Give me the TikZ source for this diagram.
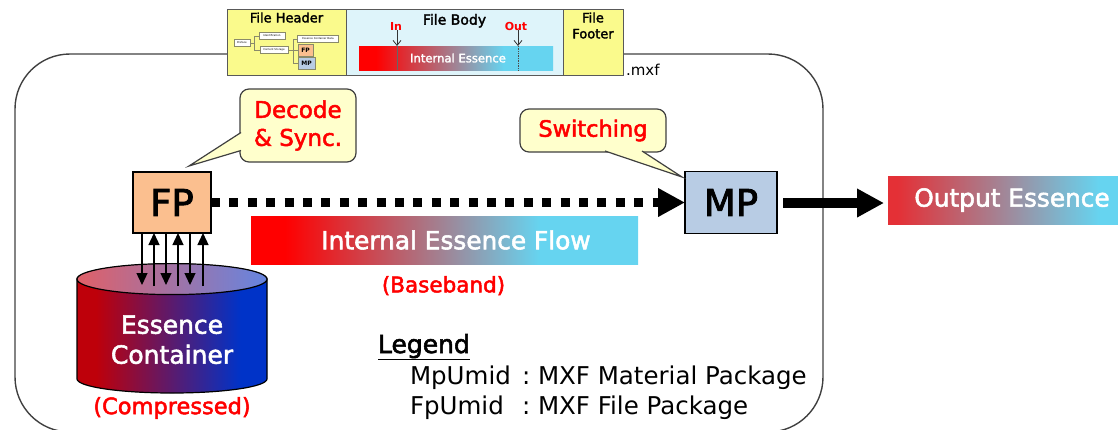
\documentclass[tikz,border=0pt]{standalone}
\usepackage{fontspec}
\setmainfont{DejaVu Sans}
\newfontfamily\medfont[FakeBold=2.2]{DejaVu Sans}
\usepackage{tikz}
\usetikzlibrary{shapes,arrows.meta,positioning,calc}

\definecolor{fporange}{HTML}{FBBF8F}
\definecolor{mpblue}{HTML}{B8CCE4}
\definecolor{noteyellow}{HTML}{FFFFCC}
\definecolor{headeryellow}{HTML}{FAFA8C}
\definecolor{bodyblue}{HTML}{DEF4FA}
\definecolor{flowcyan}{HTML}{66D4F0}
\definecolor{labelred}{HTML}{FF0000}
\definecolor{outputred}{HTML}{E43036}
\definecolor{treegray}{HTML}{8A8A6A}
\definecolor{sidered}{HTML}{BE000A}
\definecolor{sideblue}{HTML}{0033C8}
\definecolor{topred}{HTML}{E06068}
\definecolor{topblue}{HTML}{6585E0}

\pgfdeclarehorizontalshading{essenceflow}{100bp}{color(0bp)=(red); color(29.4bp)=(red); color(62.3bp)=(flowcyan); color(100bp)=(flowcyan)}
\pgfdeclarehorizontalshading{outputflow}{100bp}{color(0bp)=(outputred); color(27bp)=(outputred); color(71bp)=(flowcyan); color(100bp)=(flowcyan)}
\pgfdeclarehorizontalshading{containerside}{100bp}{color(0bp)=(sidered); color(30bp)=(sidered); color(68bp)=(sideblue); color(100bp)=(sideblue)}
\pgfdeclarehorizontalshading{containertop}{100bp}{color(0bp)=(topred); color(25bp)=(topred); color(75bp)=(topblue); color(100bp)=(topblue)}

\begin{document}
\begin{tikzpicture}[
    x=1pt, y=-1pt,
    inner sep=0pt, outer sep=0pt,
    frame/.style={rectangle, draw=black!75, line width=1.4pt, minimum width=808pt, minimum height=378pt, rounded corners=55pt},
    part/.style={rectangle, draw=black!65, line width=1pt, minimum height=66pt},
    package/.style={rectangle, draw=black, line width=1.3pt, font=\medfont\fontsize{37}{40}\selectfont},
    note/.style={rectangle, draw=black!75, line width=1.2pt, fill=noteyellow, rounded corners=9pt, align=center, text=labelred},
    tail/.style={draw=black!75, line width=1.2pt, fill=noteyellow, line join=miter},
    flow/.style={rectangle, shading=essenceflow, text=white, font=\medfont\fontsize{24.8}{28}\selectfont},
    redlabel/.style={text=labelred, font=\medfont\fontsize{21.5}{25}\selectfont},
    legendline/.style={font=\fontsize{24.5}{28}\selectfont, anchor=base west},
    tinybox/.style={rectangle, draw=treegray, line width=0.5pt, fill=white, font=\fontsize{2.6}{3}\selectfont, minimum height=7pt},
    twig/.style={draw=treegray, line width=0.7pt},
    cue/.style={-{Straight Barb[length=5pt,width=8pt]}, line width=0.8pt, draw=black!80},
    access/.style={line width=1.3pt, -{Triangle[length=12pt,width=11pt]}}
]
\useasboundingbox (0,0) rectangle (1118,429);

% Outer frame
\node[frame, anchor=north west] (frame) at (15,54) {};

% MXF file bar
\node[part, fill=headeryellow, minimum width=119pt, anchor=north west] (header) at (227,9) {};
\node[part, fill=bodyblue, minimum width=217pt, right=0pt of header] (body) {};
\node[part, fill=headeryellow, minimum width=60pt, right=0pt of body] (footer) {};
\node[below=3.5pt of header.north, font=\medfont\fontsize{13}{15}\selectfont] (headertext) {File Header};
\node[below=5pt of body.north, font=\medfont\fontsize{14}{16}\selectfont] (bodytext) {File Body};
\node[below=3.5pt of footer.north, align=center, font=\medfont\fontsize{13}{16}\selectfont] (footertext) {File\\Footer};
\node[anchor=west, font=\fontsize{15}{17}\selectfont] (mxf) at (626,70) {.mxf};

% Small header tree
\node[tinybox, minimum width=16pt] (preface) at (242,43) {Preface};
\node[tinybox, minimum width=26pt] (ident) at (272,36) {Identification};
\node[tinybox, minimum width=28pt] (storage) at (274,50) {Content Storage};
\node[tinybox, minimum width=41pt] (ecd) at (318,39) {Essence Container Data};
\node[tinybox, minimum width=15pt, minimum height=12pt, fill=fporange, font=\bfseries\fontsize{6}{7}\selectfont] (smallfp) at (305.5,50) {FP};
\node[tinybox, minimum width=17pt, minimum height=12pt, fill=mpblue, font=\bfseries\fontsize{6}{7}\selectfont] (smallmp) at (306.5,63) {MP};
\draw[twig] (preface.east) -- ++(4,0) |- (ident.west);
\draw[twig] (preface.east) -- ++(4,0) |- (storage.west);
\draw[twig] (storage.east) -- ++(5,0) |- (ecd.west);
\draw[twig] (storage.east) -- (smallfp.west);
\draw[twig] (storage.east) -- ++(5,0) |- (smallmp.west);

% Essence inside the file body
\node[flow, minimum width=194pt, minimum height=24pt, font=\medfont\fontsize{11.6}{13}\selectfont] (smallflow) at (456,58) {\hspace*{4pt}Internal Essence};
\node[text=labelred, font=\bfseries\fontsize{11}{13}\selectfont] (inlabel) at (396,26) {In};
\node[text=labelred, font=\bfseries\fontsize{11}{13}\selectfont] (outlabel) at (516,26) {Out};
\coordinate (inmark) at (397,46);
\coordinate (outmark) at (518,46);
\draw[cue] (inmark |- inlabel.south) -- (inmark);
\draw[cue] (outmark |- outlabel.south) -- (outmark);
\draw[line width=0.7pt, draw=black!60] (inmark) -- (inmark |- smallflow.south);
\draw[line width=0.7pt, draw=black!70, densely dotted] (outmark) -- (outmark |- smallflow.south);

% Packages
\node[package, fill=fporange, minimum width=78pt, minimum height=61pt] (fp) at (172,202.5) {FP};
\node[package, fill=mpblue, minimum width=92pt, minimum height=62pt, right=474pt of fp] (mp) {MP};

% Notes
\node[note, minimum width=116pt, minimum height=73pt, font=\medfont\fontsize{23}{28}\selectfont] (decode) at (298,125.5) {Decode\\\& Sync.};
\coordinate (decodetip) at (189,166);
\filldraw[tail] ($(decode.west)+(1,7)$) -- (decodetip) -- ($(decode.west)+(1,25)$);
\node[note, minimum width=146pt, minimum height=43pt, font=\medfont\fontsize{22.5}{26}\selectfont] (switching) at (593,130.5) {Switching};
\coordinate (switchtip) at (682,177);
\filldraw[tail] ($(switching.south)+(12,-1)$) -- (switchtip) -- ($(switching.south)+(49,-1)$);

% Essence flow
\node[flow, minimum width=387pt, minimum height=48pt] (flowbar) at (444.5,240) {\hspace*{23pt}Internal Essence Flow};
\node[redlabel, below=12pt of flowbar, xshift=-1pt] (baseband) {(Baseband)};
\node[flow, shading=outputflow, minimum width=230pt, minimum height=48pt, anchor=west] (output) at (888,200) {\hspace*{18pt}Output Essence};
\draw[line width=9pt, dash pattern=on 9pt off 9.4pt, -{Triangle[length=27pt,width=27pt]}] (fp.east) -- (mp.west);
\draw[line width=10pt, shorten <=6pt, shorten >=4pt, -{Triangle[length=27pt,width=27pt]}] (mp.east |- 0,203) -- (output.west |- 0,203);

% Essence container
\node[cylinder, shape border rotate=90, aspect=0.2307, draw=black, line width=1.2pt, shading=containerside, minimum width=190pt, minimum height=128pt, anchor=shape center, align=center, text=white, font=\medfont\fontsize{25}{30}\selectfont] (container) at (172,329) {\\[-5pt]Essence\\Container};
\filldraw[draw=black, line width=1.2pt, shading=containertop] ($(container.before top)!0.5!(container.after top)$) ellipse [x radius=95pt, y radius=15.5pt];
\node[redlabel, below=4pt of container, font=\medfont\fontsize{22.5}{26}\selectfont] (compressed) {(Compressed)};

% Access arrows
\coordinate (porta) at (142,285);
\coordinate (portb) at (154,286);
\coordinate (portc) at (166,285);
\coordinate (portd) at (178,286);
\coordinate (porte) at (190,285);
\coordinate (portf) at (203,286);
\draw[access] (porta |- fp.south) -- (porta);
\draw[access] (portb) -- (portb |- fp.south);
\draw[access] (portc |- fp.south) -- (portc);
\draw[access] (portd) -- (portd |- fp.south);
\draw[access] (porte |- fp.south) -- (porte);
\draw[access] (portf) -- (portf |- fp.south);

% Legend
\node[legendline, font=\medfont\fontsize{25}{28}\selectfont] (legend) at (378,353) {\underline{Legend}};
\node[legendline] (mpumid) at (410,384) {MpUmid};
\node[legendline] (mpcolon) at (522,384) {:};
\node[legendline] (mptext) at (538,384) {MXF Material Package};
\node[legendline] (fpumid) at (410,414) {FpUmid};
\node[legendline] (fpcolon) at (522,414) {:};
\node[legendline] (fptext) at (538,414) {MXF File Package};

\end{tikzpicture}
\end{document}
